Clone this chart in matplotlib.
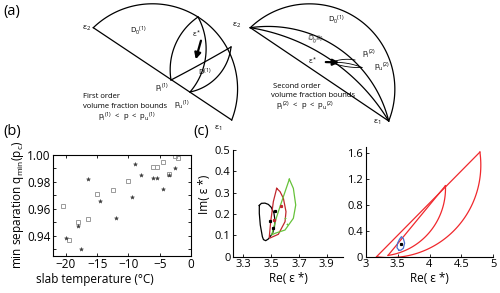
"""Figura: granice zapreminskog udela (a), min. separacija (b), kompleksna ravan (c)."""
import numpy as np
import matplotlib
matplotlib.use("Agg")
import matplotlib.pyplot as plt  # noqa: E402

plt.rcParams['font.family'] = ['Open Sans', 'DejaVu Sans']
plt.rcParams['mathtext.fontset'] = 'custom'
plt.rcParams['mathtext.rm'] = 'Open Sans'
plt.rcParams['mathtext.it'] = 'Open Sans:italic'

# ---------------------------------------------------------------------------
# (b) min separacija vs temperatura ploče
# ---------------------------------------------------------------------------
temp_open = [-20.5, -19.5, -18.0, -16.5, -15.0, -12.5, -10.0, -6.0, -5.5, -4.5, -3.5, -2.5, -2.0]
q_open = [0.962, 0.937, 0.950, 0.952, 0.971, 0.974, 0.981, 0.991, 0.991, 0.995, 0.986, 0.999, 0.998]
temp_star = [-20.0, -18.0, -17.5, -16.5, -14.5, -12.0, -9.5, -9.0, -8.0, -6.0, -5.5, -4.5, -3.5, -2.5]
q_star = [0.938, 0.947, 0.930, 0.982, 0.966, 0.953, 0.969, 0.993, 0.985, 0.983, 0.983, 0.975, 0.985, 0.990]

# ---------------------------------------------------------------------------
# (c) levo: oblasti u kompleksnoj ravni (zum)
# ---------------------------------------------------------------------------
black_re = [3.415, 3.430, 3.456, 3.480, 3.500, 3.520, 3.528, 3.524, 3.511, 3.480, 3.461,
            3.445, 3.437, 3.422, 3.415, 3.415]
black_im = [0.240, 0.250, 0.251, 0.245, 0.232, 0.205, 0.170, 0.140, 0.110, 0.083, 0.075,
            0.080, 0.094, 0.149, 0.203, 0.240]
red_re = [3.540, 3.516, 3.497, 3.487, 3.490, 3.552, 3.600, 3.607, 3.588, 3.564, 3.540]
red_im = [0.320, 0.258, 0.164, 0.094, 0.087, 0.105, 0.164, 0.211, 0.274, 0.305, 0.320]
green_re = [3.631, 3.576, 3.540, 3.504, 3.530, 3.600, 3.660, 3.677, 3.660, 3.631]
green_im = [0.363, 0.258, 0.187, 0.102, 0.110, 0.125, 0.180, 0.242, 0.320, 0.363]
black_pts_re = [3.492, 3.516, 3.530]
black_pts_im = [0.167, 0.133, 0.216]
red_pts_re = [3.569, 3.521]
red_pts_im = [0.239, 0.172]
green_pts_re = [3.600, 3.614]
green_pts_im = [0.180, 0.152]

# ---------------------------------------------------------------------------
# (c) desno: granice prvog i drugog reda
# ---------------------------------------------------------------------------
eps1 = (3.17, 0.0)
eps2 = (4.79, 1.62)
outer_mid = (4.505, 0.542)
vert2 = (4.25, 1.10)
inner_end = (3.35, 0.02)
inner_mid = (4.14, 0.59)
blue_re = [3.52, 3.49, 3.50, 3.53, 3.56, 3.59, 3.61, 3.59, 3.55, 3.52]
blue_im = [0.10, 0.14, 0.21, 0.27, 0.31, 0.28, 0.21, 0.13, 0.10, 0.10]
blue_pt = (3.56, 0.20)

# ---------------------------------------------------------------------------
# (a) šema (koordinate u pikselima slike)
# ---------------------------------------------------------------------------
L_e2, L_e1, L_top = (93.3, 27.7), (231.7, 120.0), (198.0, 17.0)
L_pl, L_pu, L_r = (171.0, 80.0), (190.0, 92.0), (231.0, 47.0)
R_shift = 157.0
R_arcA_mid = (330.0, 43.0)
R_arcB_mid = (325.0, 56.0)
R_lens_l, R_lens_a, R_lens_b = (331.0, 62.5), (355.0, 60.0), (362.0, 67.5)


def arc3(p0, pm, p1, n=120):
    """Kružni luk kroz tri tačke (od p0 preko pm do p1)."""
    (x1, y1), (x2, y2), (x3, y3) = p0, pm, p1
    a = np.array([[x2 - x1, y2 - y1], [x3 - x1, y3 - y1]], float)
    b = 0.5 * np.array([x2**2 - x1**2 + y2**2 - y1**2, x3**2 - x1**2 + y3**2 - y1**2])
    cx, cy = np.linalg.solve(a, b)
    r = np.hypot(x1 - cx, y1 - cy)
    a0 = np.arctan2(y1 - cy, x1 - cx)
    am = np.arctan2(y2 - cy, x2 - cx)
    a1 = np.arctan2(y3 - cy, x3 - cx)
    tw = 2 * np.pi
    d1 = (a1 - a0) % tw
    dm = (am - a0) % tw
    if dm > d1:
        d1 -= tw
    t = a0 + np.linspace(0, d1, n)
    return cx + r * np.cos(t), cy + r * np.sin(t)


fig = plt.figure(figsize=(5, 2.93), dpi=100)

# ----- panel (a), crtano preko cele figure u pikselima -----
ax_a = fig.add_axes([0, 0, 1, 1])
ax_a.set_xlim(0, 500)
ax_a.set_ylim(293, 0)
ax_a.axis("off")
lw = 0.9


def line(ax, p, q, **kw):
    ax.plot([p[0], q[0]], [p[1], q[1]], color="k", lw=lw, **kw)


def curve(ax, p0, pm, p1, **kw):
    x, y = arc3(p0, pm, p1)
    ax.plot(x, y, color="k", lw=kw.pop("lw", lw), **kw)


# levo
curve(ax_a, L_e2, L_top, L_e1)
line(ax_a, L_e2, L_e1)
curve(ax_a, L_pl, (174.0, 48.0), L_top)
curve(ax_a, L_top, (206.0, 45.0), L_pu)
curve(ax_a, L_pl, (200.0, 64.5), L_r)
curve(ax_a, L_pu, (218.0, 76.0), L_r)
ax_a.annotate("", xy=(195.0, 62.0), xytext=(201.7, 38.0),
              arrowprops=dict(arrowstyle="-|>", lw=1.6, color="k", mutation_scale=9))

fs = 5.5
ax_a.text(3, 12, "(a)", fontsize=10.5, va="center")
ax_a.text(91, 28, "ε$_2$", fontsize=6, ha="right", va="center")
ax_a.text(130, 31, "D$_0$$^{(1)}$", fontsize=fs, va="center")
ax_a.text(192, 34, "ε$^*$", fontsize=fs, va="center")
ax_a.text(198, 72, "D$^{(1)}$", fontsize=fs, va="center")
ax_a.text(155, 88, "p$_\\mathrm{l}$$^{(1)}$", fontsize=fs, va="center")
ax_a.text(174, 105, "p$_\\mathrm{u}$$^{(1)}$", fontsize=fs, va="center")
ax_a.text(214, 128, "ε$_1$", fontsize=6, va="center")
ax_a.text(83, 97, "First order", fontsize=fs, va="center")
ax_a.text(83, 106, "volume fraction bounds", fontsize=fs, va="center")
ax_a.text(98, 117, "p$_\\mathrm{l}$$^{(1)}$  <  p  <  p$_\\mathrm{u}$$^{(1)}$", fontsize=fs, va="center")

# desno
R_e2 = (L_e2[0] + R_shift, L_e2[1])
R_e1 = (L_e1[0] + R_shift, L_e1[1] + 1)
R_top = (L_top[0] + R_shift, L_top[1])
curve(ax_a, R_e2, R_top, R_e1)
line(ax_a, R_e2, R_e1)
curve(ax_a, R_e2, R_arcA_mid, R_e1)
curve(ax_a, R_e2, R_arcB_mid, R_e1)
curve(ax_a, R_lens_l, (343.0, 59.5), R_lens_a, lw=0.6)
curve(ax_a, R_lens_l, (346.0, 66.5), R_lens_b, lw=0.6)
curve(ax_a, R_lens_l, (345.0, 63.0), R_lens_b, lw=0.6)
ax_a.annotate("", xy=(342.0, 62.5), xytext=(323.0, 62.0),
              arrowprops=dict(arrowstyle="-|>", lw=1.6, color="k", mutation_scale=9))
ax_a.text(241, 25, "ε$_2$", fontsize=6, ha="right", va="center")
ax_a.text(328, 20, "D$_0$$^{(1)}$", fontsize=fs, va="center")
ax_a.text(306, 40, "D$_0$$^{(2)}$", fontsize=5, va="center", rotation=-12)
ax_a.text(317, 61, "ε$^*$", fontsize=fs, ha="right", va="center")
ax_a.text(362, 54, "p$_\\mathrm{l}$$^{(2)}$", fontsize=fs, va="center")
ax_a.text(374, 67, "p$_\\mathrm{u}$$^{(2)}$", fontsize=fs, va="center")
ax_a.text(373, 122, "ε$_1$", fontsize=6, va="center")
ax_a.text(273, 87, "Second order", fontsize=fs, va="center")
ax_a.text(271, 95.5, "volume fraction bounds", fontsize=fs, va="center")
ax_a.text(276, 106, "p$_\\mathrm{l}$$^{(2)}$  <  p  <  p$_\\mathrm{u}$$^{(2)}$", fontsize=fs, va="center")

ax_a.text(3, 132, "(b)", fontsize=10.5, va="center")
ax_a.text(193, 132, "(c)", fontsize=10.5, va="center")

# ----- panel (b) -----
axb = fig.add_axes([0.1066, 0.1273, 0.2754, 0.3437])
axb.plot(temp_open, q_open, "s", ms=2.5, mfc="none", mec="#9a9a9a", mew=0.7)
axb.plot(temp_star, q_star, "*", ms=3.0, color="#3a3a3a", mew=0.3)
axb.set_xlim(-22, 0)
axb.set_ylim(0.925, 1.0)
axb.set_xticks([-20, -15, -10, -5, 0])
axb.set_xticklabels(["−20", "−15", "−10", "−5", "0"])
axb.set_yticks([0.94, 0.96, 0.98, 1.00])
axb.set_yticklabels(["0.94", "0.96", "0.98", "1.00"])
axb.set_yticks(np.arange(0.93, 1.0, 0.01), minor=True)
axb.tick_params(which="both", direction="in", top=True, right=True, labelsize=8.5,
                length=2.5, width=0.6, pad=2)
for s in axb.spines.values():
    s.set_linewidth(0.8)
axb.set_xlabel("slab temperature (°C)", fontsize=8.5, labelpad=1)
axb.xaxis.set_label_coords(0.30, -0.17)
axb.set_ylabel("min separation q$_\\mathrm{min}$(p$_\\mathrm{c}$)", fontsize=8.5, labelpad=1)

# ----- panel (c) levo -----
axc1 = fig.add_axes([0.4666, 0.1239, 0.2194, 0.3643])
axc1.plot(black_re, black_im, color="k", lw=0.9)
axc1.plot(red_re, red_im, color="#c0272d", lw=0.9)
axc1.plot(green_re, green_im, color="#66c23a", lw=0.9)
axc1.plot(black_pts_re, black_pts_im, "s", ms=1.3, color="k")
axc1.plot(red_pts_re, red_pts_im, "s", ms=1.3, color="#c0272d")
axc1.plot(green_pts_re, green_pts_im, "+", ms=2, color="#66c23a", mew=0.6)
axc1.set_xlim(3.228, 4.017)
axc1.set_ylim(0, 0.5)
axc1.set_xticks([3.3, 3.5, 3.7, 3.9])
axc1.set_yticks([0, 0.1, 0.2, 0.3, 0.4, 0.5])
axc1.set_yticklabels(["0", "0.1", "0.2", "0.3", "0.4", "0.5"])
axc1.spines[["top", "right"]].set_visible(False)
axc1.tick_params(direction="in", labelsize=8, length=2.5, width=0.6, pad=2)
axc1.set_xlabel("Re( ε *)", fontsize=8.5, labelpad=1)
axc1.set_ylabel("Im( ε *)", fontsize=8.5, labelpad=1)
axc1.yaxis.set_label_coords(-0.2, 0.58)

# ----- panel (c) desno -----
axc2 = fig.add_axes([0.7314, 0.1239, 0.2552, 0.3747])
red = "#f0282d"
x, y = arc3(eps1, outer_mid, eps2)
axc2.plot(x, y, color=red, lw=0.9)
axc2.plot([eps1[0], eps2[0]], [eps1[1], eps2[1]], color=red, lw=0.9)
x, y = arc3(vert2, inner_mid, inner_end)
axc2.plot(x, y, color=red, lw=0.9)
axc2.plot([inner_end[0], vert2[0]], [inner_end[1], vert2[1]], color=red, lw=0.9)
axc2.plot(blue_re, blue_im, color="#4a6fd0", lw=0.9)
axc2.plot([blue_pt[0]], [blue_pt[1]], "s", ms=1.3, color="k")
axc2.set_xlim(3, 5)
axc2.set_ylim(0, 1.7)
axc2.set_xticks([3, 3.5, 4, 4.5, 5])
axc2.set_xticklabels(["3", "3.5", "4", "4.5", "5"])
axc2.set_yticks([0, 0.4, 0.8, 1.2, 1.6])
axc2.set_yticklabels(["0", "0.4", "0.8", "1.2", "1.6"])
axc2.spines[["top", "right"]].set_visible(False)
axc2.tick_params(direction="in", labelsize=8, length=2.5, width=0.6, pad=2)
axc2.set_xlabel("Re( ε *)", fontsize=8.5, labelpad=1)

fig.savefig("out.png", dpi=100)
